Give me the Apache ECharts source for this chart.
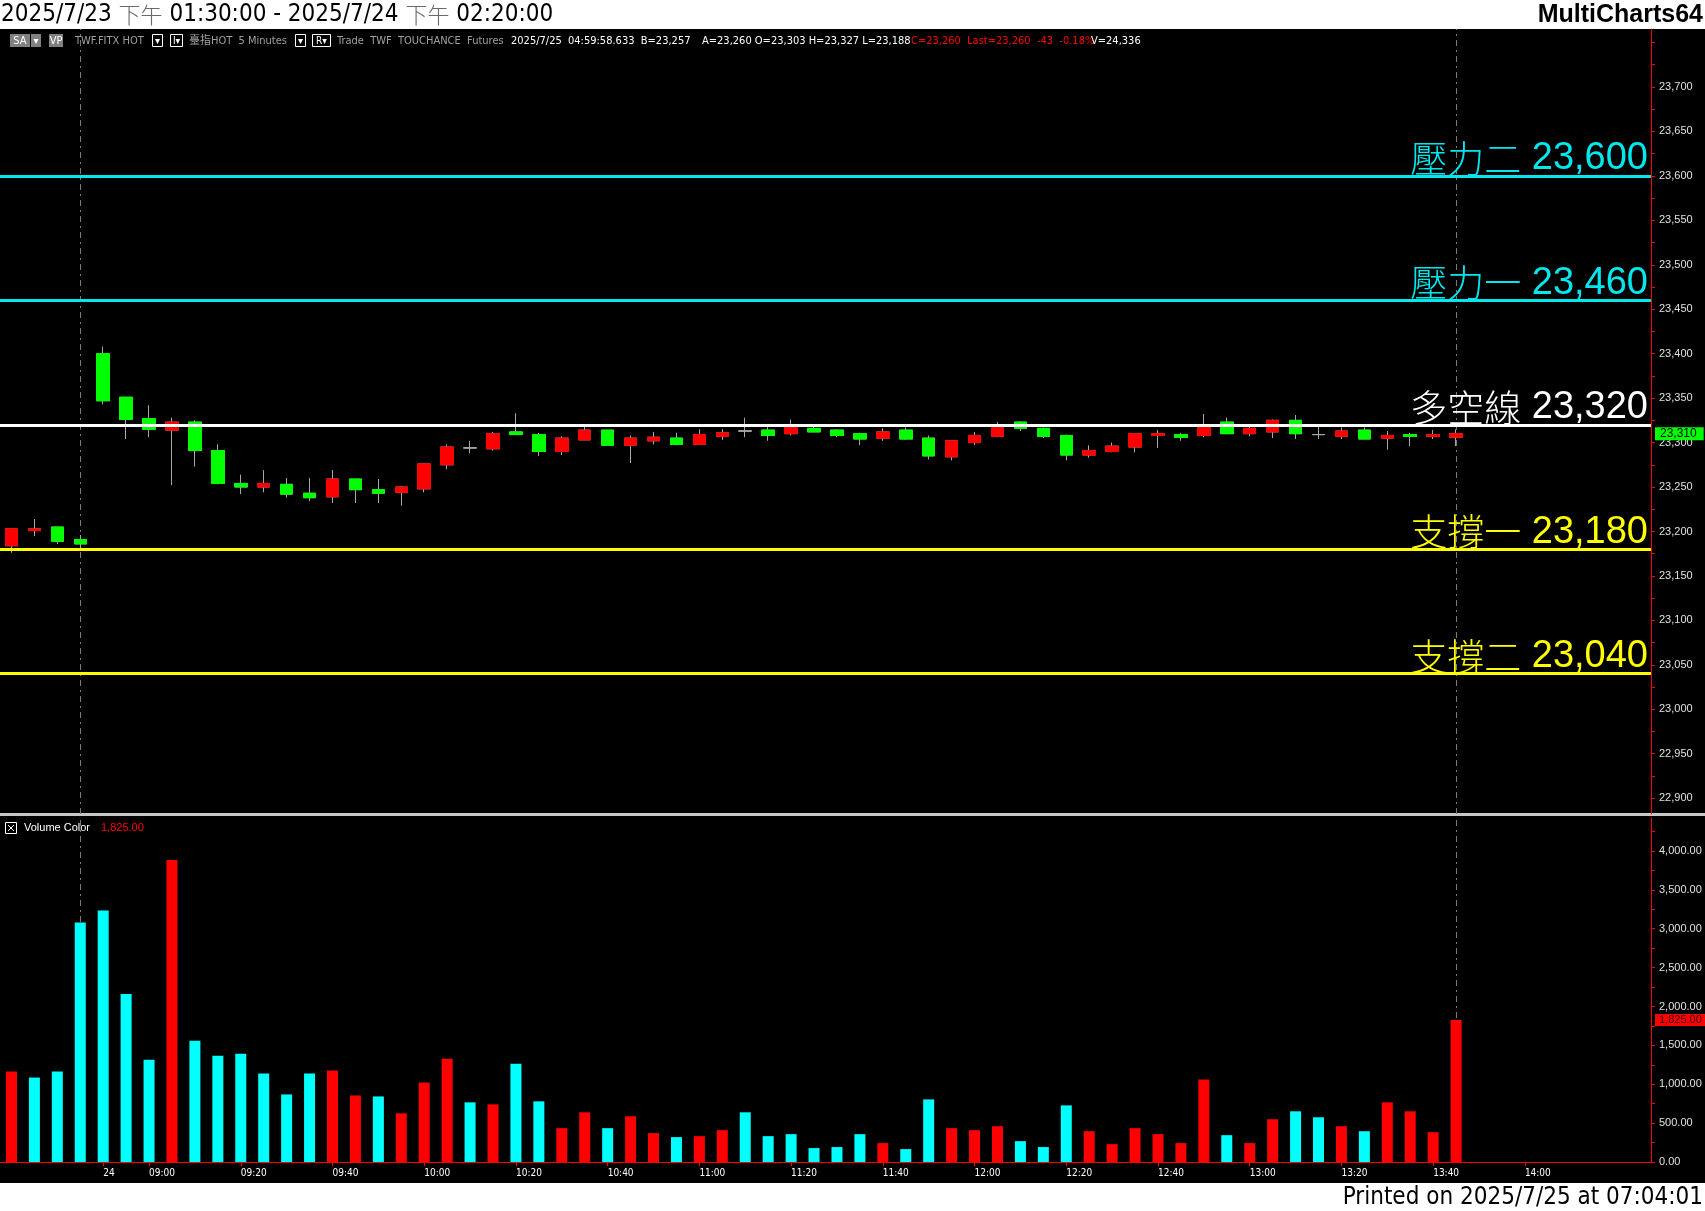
<!DOCTYPE html>
<html><head><meta charset="utf-8">
<script src="https://cdn.jsdelivr.net/npm/echarts@6/dist/echarts.min.js"></script>
<style>html,body{margin:0;padding:0;background:#000;}#c{width:1705px;height:1211px;}</style>
</head><body><div id="c"></div>
<script>
// ---- data ----
const categories = ['04:45','04:50','04:55','05:00','08:50','08:55','09:00','09:05','09:10','09:15','09:20','09:25','09:30','09:35','09:40','09:45','09:50','09:55','10:00','10:05','10:10','10:15','10:20','10:25','10:30','10:35','10:40','10:45','10:50','10:55','11:00','11:05','11:10','11:15','11:20','11:25','11:30','11:35','11:40','11:45','11:50','11:55','12:00','12:05','12:10','12:15','12:20','12:25','12:30','12:35','12:40','12:45','12:50','12:55','13:00','13:05','13:10','13:15','13:20','13:25','13:30','13:35','13:40','13:45','13:50','13:55','14:00','14:05','14:10','14:15','14:20','14:25'];
const xTickIndex = [4,6,10,14,18,22,26,30,34,38,42,46,50,54,58,62,66];
const xTickText = ['24','09:00','09:20','09:40','10:00','10:20','10:40','11:00','11:20','11:40','12:00','12:20','12:40','13:00','13:20','13:40','14:00'];
const sessionBreaks = [3, 63];

const opens  = [23184,23201,23205,23191,23400,23351,23327,23314,23323,23291,23254,23250,23253,23243,23239,23259,23247,23244,23248,23275,23294,23293,23312,23309,23290,23303,23314,23297,23302,23305,23298,23307,23313,23314,23310,23316,23314,23310,23305,23314,23305,23284,23300,23307,23323,23316,23308,23286,23290,23295,23308,23309,23308,23323,23310,23312,23325,23309,23307,23314,23305,23309,23307,23306];
const closes = [23203,23203,23189,23186,23347,23326,23315,23323,23291,23254,23250,23254,23242,23238,23259,23247,23243,23250,23276,23295,23294,23310,23309,23290,23305,23314,23297,23305,23306,23298,23309,23311,23313,23308,23317,23312,23308,23304,23312,23304,23285,23302,23308,23318,23316,23307,23286,23291,23296,23310,23310,23306,23318,23310,23316,23325,23310,23309,23313,23304,23308,23307,23309,23310];
const lows   = [23176,23195,23186,23180,23343,23304,23306,23252,23273,23253,23242,23244,23238,23234,23232,23232,23232,23229,23244,23270,23288,23291,23309,23285,23286,23303,23297,23277,23298,23297,23298,23303,23306,23302,23308,23312,23306,23297,23302,23303,23281,23280,23297,23307,23313,23305,23280,23283,23289,23289,23294,23302,23306,23310,23307,23305,23304,23304,23304,23304,23292,23296,23304,23296];
const highs  = [23203,23214,23205,23196,23408,23351,23342,23328,23325,23298,23264,23269,23260,23260,23269,23259,23259,23251,23276,23298,23302,23312,23333,23311,23307,23318,23314,23308,23312,23311,23315,23315,23328,23318,23326,23318,23315,23311,23316,23317,23308,23302,23312,23323,23324,23317,23309,23297,23300,23310,23314,23311,23332,23328,23318,23326,23331,23318,23317,23317,23313,23311,23314,23315];

const volumes = [1163,1086,1163,3080,3233,2160,1316,3885,1559,1367,1393,1137,869,1137,1176,856,843,626,1022,1329,767,741,1265,780,435,639,435,588,371,320,332,409,639,332,358,179,192,358,243,166,805,435,409,460,268,192,728,396,230,435,358,243,1061,345,243,550,652,575,460,396,767,652,383,1825];
const volumeUp = [1,0,0,0,0,0,0,1,0,0,0,0,0,0,1,1,0,1,1,1,0,1,0,0,1,1,0,1,1,0,1,1,0,0,0,0,0,0,1,0,0,1,1,1,0,0,0,1,1,1,1,1,1,0,1,1,0,0,1,0,1,1,1,1];

const priceTicks = [22900,22950,23000,23050,23100,23150,23200,23250,23300,23350,23400,23450,23500,23550,23600,23650,23700];
const priceMinorTicks = [22900,22925,22950,22975,23000,23025,23050,23075,23100,23125,23150,23175,23200,23225,23250,23275,23300,23325,23350,23375,23400,23425,23450,23475,23500,23525,23550,23575,23600,23625,23650,23675,23700,23725,23750];
const volumeTicks = [0,500,1000,1500,2000,2500,3000,3500,4000];
const volumeMinorTicks = [0,250,500,750,1000,1250,1500,1750,2000,2250,2500,2750,3000,3250,3500,3750,4000,4250];

const levelNames  = ['壓力二','壓力一','多空線','支撐一','支撐二'];
const levelValues = [23600,23460,23320,23180,23040];

// ---- styles ----
const levelColors = ['#00e8ee','#00e8ee','#ffffff','#ffff00','#ffff00'];
const NARROW = '"Liberation Sans Narrow","Arial Narrow","DejaVu Sans Condensed","Liberation Sans",sans-serif';
const SANS = '"Liberation Sans",Arial,"Noto Sans CJK TC",sans-serif';
const CJK = '"Noto Sans CJK TC","Noto Sans CJK SC",sans-serif';
const fmt = v => Number(v).toLocaleString('en-US');
const fmt2 = v => Number(v).toLocaleString('en-US',{minimumFractionDigits:2,maximumFractionDigits:2});

const candleData = opens.map((o,i)=>[o,closes[i],lows[i],highs[i]]);
const bodyData = opens.map((o,i)=>[o,closes[i],Math.min(o,closes[i]),Math.max(o,closes[i])]);
const lastClose = closes[closes.length-1];
const lastVol = volumes[volumes.length-1];

const breakLines = sessionBreaks.map(i=>({xAxis:i}));
const breakStyle = {color:'#7a7a7a', width:1, type:[6,4,2,4]};

const levelLines = levelValues.map((v,i)=>({
  yAxis: v,
  lineStyle:{color:levelColors[i], width:3, type:'solid'},
  label:{show:true, position:'insideEndTop', distance:[3,-2],
    formatter: '{c|'+levelNames[i]+'}{n| '+fmt(v)+'}',
    rich:{
      c:{color:levelColors[i], fontSize:37, fontWeight:300, fontFamily:CJK},
      n:{color:levelColors[i], fontSize:38, fontFamily:'"Liberation Sans",Arial,sans-serif'}
    }}
}));

const chart = echarts.init(document.getElementById('c'), null, {renderer:'canvas'});

const xIntervalFn = (idx)=> xTickIndex.indexOf(idx) >= 0;

const option = {
  backgroundColor:'#000',
  animation:false,
  grid:[
    {left:0, right:54, top:29, bottom:397},
    {left:0, right:54, top:818, bottom:49}
  ],
  xAxis:[
    {type:'category', gridIndex:0, data:categories, boundaryGap:true,
     axisLine:{show:false}, axisTick:{show:false}, axisLabel:{show:false}, splitLine:{show:false}},
    {type:'category', gridIndex:1, data:categories, boundaryGap:true,
     axisLine:{show:true, lineStyle:{color:'#ff0000', width:1}},
     axisTick:{show:true, alignWithLabel:true, interval:xIntervalFn, length:4, lineStyle:{color:'#ff0000'}},
     axisLabel:{show:true, interval:xIntervalFn, align:'left', margin:6, color:'#ffffff', fontSize:10, fontFamily:NARROW,
       formatter:(val, idx)=> xTickText[xTickIndex.indexOf(idx)] || ''},
     splitLine:{show:false}}
  ],
  yAxis:[
    {type:'value', gridIndex:0, position:'right', min:22882.2, max:23765.2, scale:true,
     axisLine:{show:true, lineStyle:{color:'#ff0000', width:1}},
     axisTick:{show:true, length:4, inside:false, customValues:priceMinorTicks, lineStyle:{color:'#ff0000'}},
     axisLabel:{show:true, customValues:priceTicks, margin:8, color:'#e0e0e0', fontSize:11, fontFamily:SANS, formatter:v=>fmt(v)},
     splitLine:{show:false}},
    {type:'value', gridIndex:1, position:'right', min:0, max:4424,
     axisLine:{show:true, lineStyle:{color:'#ff0000', width:1}},
     axisTick:{show:true, length:4, customValues:volumeMinorTicks, lineStyle:{color:'#ff0000'}},
     axisLabel:{show:true, customValues:volumeTicks, margin:8, color:'#e0e0e0', fontSize:11, fontFamily:SANS, formatter:v=>fmt2(v)},
     splitLine:{show:false}}
  ],
  series:[
    {type:'candlestick', name:'wick', xAxisIndex:0, yAxisIndex:0, data:candleData, barWidth:13,
     itemStyle:{color:'#ff0000', color0:'#00ff00', borderColor:'#a8a8a8', borderColor0:'#a8a8a8', borderColorDoji:'#a8a8a8', borderWidth:1},
     markLine:{silent:true, symbol:['none','none'], z:1, label:{show:false}, lineStyle:breakStyle, data:breakLines}
    },
    {type:'candlestick', name:'body', xAxisIndex:0, yAxisIndex:0, data:bodyData, barWidth:13,
     itemStyle:{color:'#ff0000', color0:'#00ff00', borderColor:'#ff0000', borderColor0:'#00ff00', borderColorDoji:'#a8a8a8', borderWidth:1},
     markLine:{silent:true, symbol:['none','none'], z:10, data: levelLines.concat([
       {yAxis:lastClose, lineStyle:{color:'rgba(0,0,0,0)', width:0}, label:{show:true, position:'end', distance:4, formatter:fmt(lastClose),
         backgroundColor:'#00ff00', color:'#000', fontSize:12, fontFamily:SANS, padding:[1,7,0,5], opacity:1}}
     ])}
    },
    {type:'bar', name:'volume', xAxisIndex:1, yAxisIndex:1, barWidth:11,
     data: volumes.map((v,i)=>({value:v, itemStyle:{color: volumeUp[i] ? '#ff0000' : '#00ffff'}})),
     markLine:{silent:true, symbol:['none','none'], z:1, label:{show:false}, lineStyle:breakStyle,
       data: breakLines.concat([
         {yAxis:lastVol, lineStyle:{color:'rgba(0,0,0,0)', width:0, type:'solid'}, label:{show:true, position:'end', distance:4, formatter:fmt2(lastVol),
           backgroundColor:'#ff0000', color:'#300000', fontSize:11, fontFamily:SANS, padding:[1,4,0,4], opacity:1}}
       ])}
    }
  ],
  graphic:[
    {type:'rect', shape:{x:0,y:0,width:1705,height:29}, style:{fill:'#ffffff'}, silent:true},
    {type:'rect', shape:{x:0,y:1183,width:1705,height:28}, style:{fill:'#ffffff'}, silent:true},
    {type:'text', x:1, y:15, style:{text:'2025/7/23 {g|下午} 01:30:00 - 2025/7/24 {g|下午} 02:20:00', fill:'#000', fontSize:24, fontFamily:NARROW, verticalAlign:'middle',
      rich:{g:{fill:'#6a6a6a', fontSize:22, fontFamily:CJK, fontWeight:300}}}},
    {type:'text', x:1703, y:15, style:{text:'MultiCharts64', fill:'#000', font:'bold 25px "Liberation Sans",Arial,sans-serif', align:'right', verticalAlign:'middle'}},
    {type:'text', x:1703, y:1198, style:{text:'Printed on 2025/7/25 at 07:04:01', fill:'#000', font:'24px '+NARROW, align:'right', verticalAlign:'middle'}},
    // separator between panes
    {type:'rect', shape:{x:0,y:813,width:1705,height:3}, style:{fill:'#c8c8c8'}, silent:true},
    // toolbar
    {type:'rect', shape:{x:10,y:34,width:20,height:13}, style:{fill:'#808080'}},
    {type:'text', x:20, y:41, style:{text:'SA', fill:'#fff', font:'11px '+NARROW, align:'center', verticalAlign:'middle'}},
    {type:'rect', shape:{x:31,y:34,width:10,height:13}, style:{fill:'#808080'}},
    {type:'text', x:36, y:41, style:{text:'▾', fill:'#fff', font:'10px "DejaVu Sans"', align:'center', verticalAlign:'middle'}},
    {type:'rect', shape:{x:49,y:34,width:14,height:13}, style:{fill:'#808080'}},
    {type:'text', x:56, y:41, style:{text:'VP', fill:'#fff', font:'11px '+NARROW, align:'center', verticalAlign:'middle'}},
    {type:'text', x:75, y:41, style:{text:'TWF.FITX HOT', fill:'#a0a0a0', font:'11px '+NARROW, verticalAlign:'middle'}},
    {type:'rect', shape:{x:152.5,y:34.5,width:10,height:12}, style:{fill:'#000', stroke:'#fff', lineWidth:1}},
    {type:'text', x:157.5, y:41, style:{text:'▾', fill:'#fff', font:'10px "DejaVu Sans"', align:'center', verticalAlign:'middle'}},
    {type:'rect', shape:{x:170.5,y:34.5,width:12,height:12}, style:{fill:'#000', stroke:'#fff', lineWidth:1}},
    {type:'text', x:176.5, y:41, style:{text:'I▾', fill:'#fff', font:'10px '+NARROW, align:'center', verticalAlign:'middle'}},
    {type:'text', x:189, y:41, style:{text:'臺指HOT  5 Minutes', fill:'#a0a0a0', font:'11px '+NARROW+',"Noto Sans CJK TC"', verticalAlign:'middle'}},
    {type:'rect', shape:{x:295.5,y:34.5,width:10,height:12}, style:{fill:'#000', stroke:'#fff', lineWidth:1}},
    {type:'text', x:300.5, y:41, style:{text:'▾', fill:'#fff', font:'10px "DejaVu Sans"', align:'center', verticalAlign:'middle'}},
    {type:'rect', shape:{x:312.5,y:34.5,width:18,height:12}, style:{fill:'#000', stroke:'#fff', lineWidth:1}},
    {type:'text', x:321.5, y:41, style:{text:'R▾', fill:'#fff', font:'10px '+NARROW, align:'center', verticalAlign:'middle'}},
    {type:'text', x:337, y:41, style:{text:'Trade  TWF  TOUCHANCE  Futures', fill:'#a0a0a0', font:'11px '+NARROW, verticalAlign:'middle'}},
    {type:'text', x:511, y:41, style:{text:'2025/7/25  04:59:58.633  B=23,257', fill:'#ffffff', font:'11px '+NARROW, verticalAlign:'middle'}},
    {type:'text', x:702, y:41, style:{text:'A=23,260 O=23,303 H=23,327 L=23,188', fill:'#ffffff', font:'11px '+NARROW, verticalAlign:'middle'}},
    {type:'text', x:911, y:41, style:{text:'C=23,260  Last=23,260  -43  -0.18%', fill:'#ff0000', font:'11px '+NARROW, verticalAlign:'middle'}},
    {type:'text', x:1091, y:41, style:{text:'V=24,336', fill:'#ffffff', font:'11px '+NARROW, verticalAlign:'middle'}},
    // volume legend
    {type:'rect', shape:{x:5.5,y:822.5,width:11,height:11}, style:{fill:'#000', stroke:'#fff', lineWidth:1}},
    {type:'line', shape:{x1:8,y1:825,x2:14,y2:831}, style:{stroke:'#fff', lineWidth:1}},
    {type:'line', shape:{x1:14,y1:825,x2:8,y2:831}, style:{stroke:'#fff', lineWidth:1}},
    {type:'text', x:24, y:828, style:{text:'Volume Color', fill:'#ffffff', font:'11px '+SANS, verticalAlign:'middle'}},
    {type:'text', x:101, y:828, style:{text:fmt2(lastVol), fill:'#ff0000', font:'11px '+SANS, verticalAlign:'middle'}}
  ]
};
chart.setOption(option);
</script>
</body></html>
